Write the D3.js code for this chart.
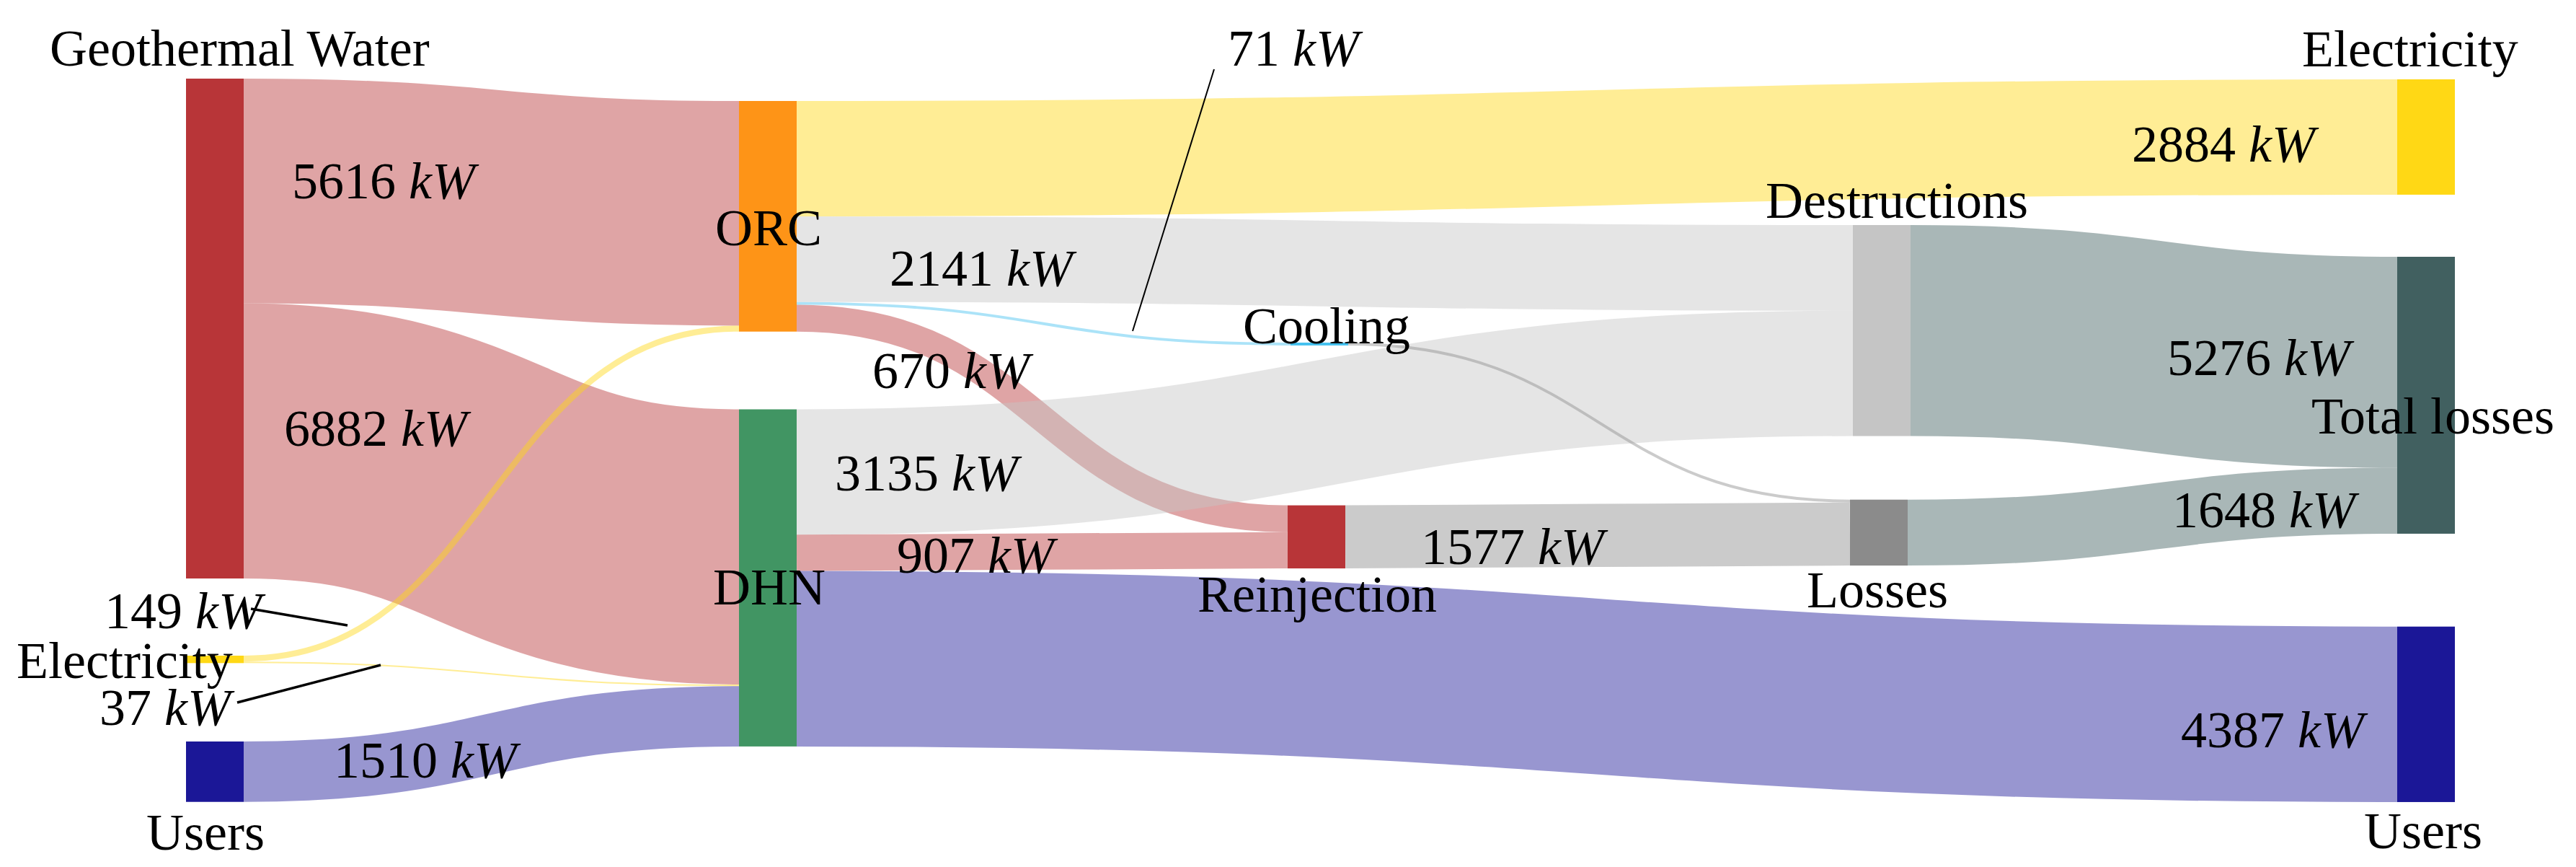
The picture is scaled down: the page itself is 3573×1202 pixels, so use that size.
<!DOCTYPE html>
<html><head><meta charset="utf-8">
<script src="https://cdn.jsdelivr.net/npm/d3@7"></script>
<style>html,body{margin:0;padding:0;background:#fff;} svg{display:block;}</style>
</head><body>
<svg id="chart" width="3573" height="1202"></svg>
<script>
// ---------- DATA ----------
const nodeIds = ["geo","elecIn","usersIn","orc","dhn","cooling","reinj","destr","losses","elecOut","totLoss","usersOut"];
const nodeNames = ["Geothermal Water","Electricity","Users","ORC","DHN","Cooling","Reinjection","Destructions","Losses","Electricity","Total losses","Users"];
const linkSources = ["geo","geo","elecIn","elecIn","usersIn","orc","orc","orc","orc","dhn","dhn","dhn","cooling","reinj","destr","losses"];
const linkTargets = ["orc","dhn","orc","dhn","dhn","elecOut","destr","cooling","reinj","destr","reinj","usersOut","losses","losses","totLoss","totLoss"];
const linkValues  = [5616,6882,149,37,1510,2884,2141,71,670,3135,907,4387,71,1577,5276,1648];
const unitLabel = "kW";

// ---------- STYLES ----------
const nodeColors = {geo:"#b83538", elecIn:"#ffd815", usersIn:"#1b1797", orc:"#fe9417", dhn:"#419563",
  cooling:"#45c1ef", reinj:"#b83538", destr:"#c5c5c5", losses:"#8b8b8b", elecOut:"#ffd815",
  totLoss:"#416060", usersOut:"#1b1797"};
const linkColorNode = ["geo","geo","elecIn","elecIn","usersIn","elecOut","destr","cooling","reinj","destr","reinj","usersOut","losses","losses","totLoss","totLoss"];
const linkOpacity = 0.45;
const fontFamily = "'Liberation Serif','Times New Roman',serif";
const fontSize = 72;

// ---------- LAYOUT ----------
const nodeWidth = 80;
const nodeLayout = {geo:[258,109], elecIn:[258,909], usersIn:[258,1028], orc:[1025,140], dhn:[1025,567.5],
  cooling:[1790,475], reinj:[1786,700.6], destr:[2570,312], losses:[2566,692.7],
  elecOut:[3325,110], totLoss:[3325,356], usersOut:[3325,868.7]};
// node name label: [x, baselineY, anchor]
const nodeLabelLayout = {geo:[69,91,"start"], elecIn:[23,940,"start"], usersIn:[203,1178,"start"],
  orc:[1066,340,"middle"], dhn:[1067,838,"middle"], cooling:[1724,476,"start"], reinj:[1827,848,"middle"],
  destr:[2449,302,"start"], losses:[2604,842,"middle"], elecOut:[3193,92,"start"],
  totLoss:[3206,601,"start"], usersOut:[3279,1176,"start"]};
// value label per link: [x, baselineY] or null
const valueLabelLayout = [[405,275],[394,618],[145,871],[138,1005],[463,1078],[2957,224],[1234,396],[1703,91],
  [1210,538],[1158,680],[1244,794],[3025,1036],null,[1971,782],[3006,520],[3013,731]];
// leader lines per link index
const leaderLayout = [
  {link:7, from:[1684,96], to:[1571,459], w:2},
  {link:2, from:[348,844], to:[482,867], w:3.5},
  {link:3, from:[329,974], to:[528,922], w:3.5}
];

// ---------- BUILD ----------
const svg = d3.select("#chart");
svg.append("rect").attr("width",3573).attr("height",1202).attr("fill","#fff");

const kw = d3.scaleLinear().domain([0, 12498]).range([0, 693]);

const nodes = nodeIds.map((id,i)=>({id, name:nodeNames[i], x0:nodeLayout[id][0], y0:nodeLayout[id][1],
  inSum:0, outSum:0, inOff:0, outOff:0}));
const nodeById = new Map(nodes.map(n=>[n.id,n]));
const links = linkValues.map((v,i)=>({source:nodeById.get(linkSources[i]), target:nodeById.get(linkTargets[i]),
  value:v, color:nodeColors[linkColorNode[i]], index:i}));
links.forEach(l=>{ l.source.outSum += l.value; l.target.inSum += l.value; });
nodes.forEach(n=>{ n.x1 = n.x0 + nodeWidth; n.y1 = n.y0 + kw(Math.max(n.inSum,n.outSum)); });
links.forEach(l=>{
  l.width = kw(l.value);
  l.sy = l.source.y0 + kw(l.source.outOff) + l.width/2; l.source.outOff += l.value;
  l.ty = l.target.y0 + kw(l.target.inOff) + l.width/2; l.target.inOff += l.value;
});

const linkGen = d3.linkHorizontal().source(d=>[d.source.x1, d.sy]).target(d=>[d.target.x0, d.ty]);

svg.append("g").attr("fill","none").selectAll("path").data(links).join("path")
  .attr("d", linkGen)
  .attr("stroke", d=>d.color)
  .attr("stroke-opacity", linkOpacity)
  .attr("stroke-width", d=>Math.max(1,d.width));

svg.append("g").selectAll("rect").data(nodes).join("rect")
  .attr("x", d=>d.x0).attr("y", d=>d.y0)
  .attr("width", d=>d.x1-d.x0).attr("height", d=>d.y1-d.y0)
  .attr("fill", d=>nodeColors[d.id]);

// leader lines
svg.append("g").selectAll("line").data(leaderLayout).join("line")
  .attr("x1", d=>d.from[0]).attr("y1", d=>d.from[1]).attr("x2", d=>d.to[0]).attr("y2", d=>d.to[1])
  .attr("stroke","#000").attr("stroke-width", d=>d.w);

// node labels
svg.append("g").selectAll("text").data(nodes).join("text")
  .attr("x", d=>nodeLabelLayout[d.id][0]).attr("y", d=>nodeLabelLayout[d.id][1])
  .attr("text-anchor", d=>nodeLabelLayout[d.id][2])
  .attr("font-family", fontFamily).attr("font-size", fontSize).attr("fill","#000")
  .text(d=>d.name);

// value labels
const vl = svg.append("g").selectAll("text").data(links.filter(l=>valueLabelLayout[l.index])).join("text")
  .attr("x", d=>valueLabelLayout[d.index][0]).attr("y", d=>valueLabelLayout[d.index][1])
  .attr("font-family", fontFamily).attr("font-size", fontSize).attr("fill","#000")
  .attr("xml:space","preserve");
vl.append("tspan").text(d=>d.value + " ");
vl.append("tspan").attr("font-style","italic").text(unitLabel);
</script>
</body></html>
